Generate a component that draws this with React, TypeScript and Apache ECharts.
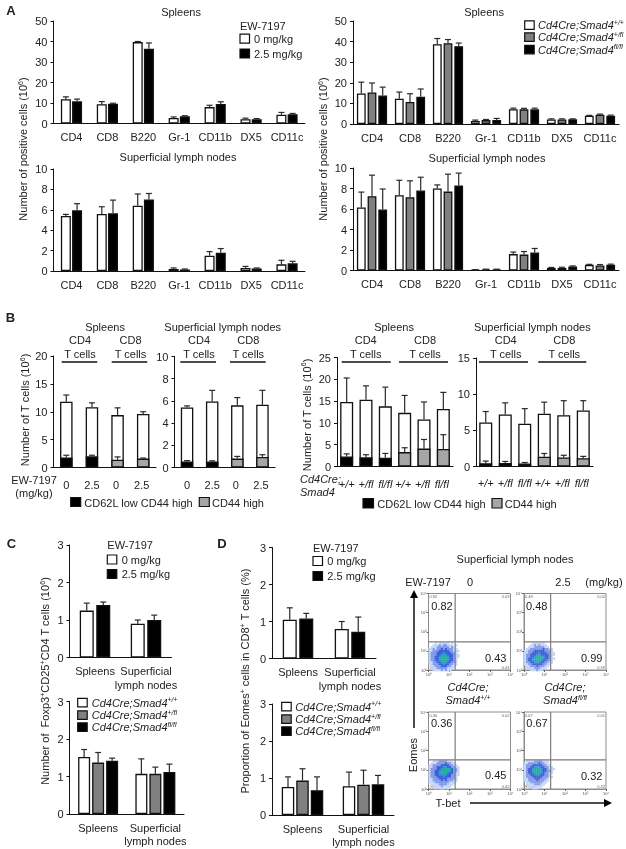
import React, { useEffect, useRef } from "react";
import * as echarts from "echarts";

const FONT = "Liberation Sans";
const INK = "#222222";
const WHITE = "#ffffff";
const GRAY = "#808080";
const BLACK = "#000000";
const HATCH = "#a6a6a6";

const immuneCats = ["CD4", "CD8", "B220", "Gr-1", "CD11b", "DX5", "CD11c"];
const tissueCats = ["Spleens", "Superficial\nlymph nodes"];
const doseCats = ["0", "2.5", "0 ", "2.5 "];
const genoCats = ["+/+", "+/fl", "fl/fl", "+/+ ", "+/fl ", "fl/fl "];

const a1White = [11.8, 9.4, 39.7, 2.7, 8, 2.1, 4.3];
const a1WhiteTop = [13, 10.7, 40, 3.2, 8.9, 2.6, 5.4];
const a1Black = [10.8, 9.6, 36.5, 3.5, 9.5, 2.1, 4.5];
const a1BlackTop = [11.9, 9.9, 39.3, 3.8, 10.6, 2.4, 4.9];

const a2White = [14.8, 12.3, 38.7, 1.5, 7.2, 2.2, 4];
const a2WhiteTop = [20.3, 15.5, 41.5, 1.9, 7.7, 2.5, 4.2];
const a2Gray = [15.3, 10.7, 39.2, 1.9, 7.1, 2.2, 4.5];
const a2GrayTop = [19.9, 14.7, 41, 2.2, 7.6, 2.5, 4.8];
const a2Black = [13.8, 13.2, 37.8, 2, 7.1, 2.3, 4];
const a2BlackTop = [17.9, 17, 39.3, 2.7, 7.7, 2.5, 4.3];

const a3White = [5.4, 5.6, 6.4, 0.2, 1.5, 0.3, 0.65];
const a3WhiteTop = [5.55, 6.3, 7.55, 0.3, 1.9, 0.45, 1.05];
const a3Black = [5.95, 5.65, 7.0, 0.15, 1.8, 0.25, 0.75];
const a3BlackTop = [6.6, 6.95, 7.6, 0.2, 2.2, 0.3, 0.95];

const a4White = [6.15, 7.35, 8, 0.05, 1.6, 0.25, 0.55];
const a4WhiteTop = [7.65, 8.8, 8.35, 0.08, 1.8, 0.3, 0.6];
const a4Gray = [7.25, 7.15, 7.7, 0.1, 1.55, 0.25, 0.5];
const a4GrayTop = [9.3, 8.75, 9.4, 0.13, 1.85, 0.32, 0.58];
const a4Black = [5.95, 7.8, 8.3, 0.1, 1.75, 0.4, 0.55];
const a4BlackTop = [7.95, 9.1, 9.5, 0.13, 2.15, 0.45, 0.62];

const b1Total = [11.8, 10.8, 9.4, 9.6];
const b1TotalTop = [13, 11.6, 10.7, 10];
const b1Low = [1.8, 2, 1.4, 1.6];
const b1LowTop = [2.2, 2.2, 1.9, 1.7];

const b2Total = [5.4, 5.95, 5.6, 5.65];
const b2TotalTop = [5.55, 6.95, 6.3, 6.95];
const b2Low = [0.55, 0.55, 0.8, 0.95];
const b2LowTop = [0.62, 0.6, 1.0, 1.15];

const b3Total = [14.8, 15.3, 13.8, 12.3, 10.8, 13.2];
const b3TotalTop = [20.3, 18.5, 18.2, 16.3, 14.8, 17];
const b3Low = [2.3, 2.1, 2, 3.3, 4.1, 4];
const b3LowTop = [2.9, 2.7, 3, 4.3, 6.2, 7.3];

const b4Total = [6.1, 7.2, 5.9, 7.3, 7.1, 7.75];
const b4TotalTop = [7.6, 8.8, 8, 8.9, 9.1, 9.1];
const b4Low = [0.45, 0.5, 0.4, 1.35, 1.25, 1.15];
const b4LowTop = [0.75, 0.7, 0.55, 1.8, 1.55, 1.4];

const c1White = [1.25, 0.9];
const c1WhiteTop = [1.45, 1.0];
const c1Black = [1.4, 1.0];
const c1BlackTop = [1.48, 1.13];
const c2White = [1.52, 1.07];
const c2WhiteTop = [1.72, 1.47];
const c2Gray = [1.37, 1.07];
const c2GrayTop = [1.64, 1.25];
const c2Black = [1.42, 1.12];
const c2BlackTop = [1.49, 1.33];

const d1White = [1.05, 0.8];
const d1WhiteTop = [1.37, 1.0];
const d1Black = [1.08, 0.72];
const d1BlackTop = [1.22, 1.12];
const d2White = [0.76, 0.78];
const d2WhiteTop = [1.03, 1.16];
const d2Gray = [0.93, 0.82];
const d2GrayTop = [1.25, 1.21];
const d2Black = [0.67, 0.83];
const d2BlackTop = [1.03, 1.07];

// density of events, top row first, one digit per cell of the lower-left gate
const flowA = [
  "000101111101000",
  "001112122111010",
  "011122222212100",
  "112122323222110",
  "112223333322111",
  "122233343332210",
  "122233444333211",
  "122334454433211",
  "122334555433210",
  "122334554433210",
  "112233444332210",
  "112223343322110",
  "011222333221100",
  "011122222111000",
  "001111212110000",
];
const flowB = [
  "000011111100000",
  "000112121110000",
  "001112222211000",
  "011222222322110",
  "112223333322210",
  "112233343332211",
  "122333443333211",
  "122334454433210",
  "123344555433211",
  "123344544332210",
  "122334443322110",
  "112233333221100",
  "011222322211000",
  "011112221110000",
  "000111211000000",
];
const flowC = [
  "001112222111000",
  "011122223221100",
  "112222333322110",
  "112233344332211",
  "122233445543221",
  "122334555443221",
  "122334554433211",
  "122334444332211",
  "122233343332210",
  "112223333222210",
  "112222323222110",
  "111222222211100",
  "011112222111000",
  "001111211110000",
  "000101110100000",
];
const flowD = [
  "011112222111000",
  "112222232211000",
  "122233333221100",
  "122334443322110",
  "123344544332111",
  "123345554332210",
  "123344544322110",
  "122334443322100",
  "122233333222110",
  "112223332221000",
  "112222322211000",
  "011222222110000",
  "011112221100000",
  "001111111000000",
  "000011100000000",
];
const flowColors = ["transparent", "#c6d5f7", "#7f9ae9", "#3f5edb", "#2d9ec9", "#27b48c"];
const decades = [0, 1, 2, 3, 4];

const grids: any[] = [];
const xAxes: any[] = [];
const yAxes: any[] = [];
const series: any[] = [];
const gfx: any[] = [];

const errorSeries = (g: number, vals: number[], tops: number[], offset: number, cap: number, z = 5) => ({
  type: "custom",
  xAxisIndex: g,
  yAxisIndex: g,
  silent: true,
  z,
  clip: false,
  data: vals.map((v, i) => [i, tops[i], v]),
  encode: { x: 0, y: 1 },
  renderItem: (_: any, api: any) => {
    const a = api.coord([api.value(0), api.value(1)]);
    const b = api.coord([api.value(0), api.value(2)]);
    const x = a[0] + offset;
    const st = { stroke: "#2a2a2a", lineWidth: 1.2, fill: "none" };
    return {
      type: "group",
      children: [
        { type: "line", shape: { x1: x, y1: a[1], x2: x, y2: b[1] }, style: st },
        { type: "line", shape: { x1: x - cap, y1: a[1], x2: x + cap, y2: a[1] }, style: st },
      ],
    };
  },
});

function addAxes(p: any) {
  const g = grids.length;
  grids.push({ left: p.left, top: p.top, width: p.right - p.left, height: p.zero - p.top });
  xAxes.push({
    gridIndex: g,
    type: "category",
    data: p.cats,
    axisLine: { lineStyle: { color: "#111", width: 1 } },
    axisTick: { length: 3, lineStyle: { color: "#111" } },
    axisLabel: {
      interval: 0,
      color: INK,
      fontFamily: FONT,
      fontSize: 11,
      margin: p.margin,
      fontStyle: p.italic ? "italic" : "normal",
      lineHeight: 13.5,
    },
  });
  yAxes.push({
    gridIndex: g,
    type: "value",
    min: 0,
    max: p.max,
    interval: p.interval,
    splitLine: { show: false },
    axisLine: { show: true, lineStyle: { color: "#111", width: 1 } },
    axisTick: { show: true, length: 3, lineStyle: { color: "#111" } },
    axisLabel: { color: INK, fontFamily: FONT, fontSize: 11, margin: 6 },
  });
  return g;
}

function addBars(p: any) {
  const g = addAxes(p);
  const n = p.groups.length;
  p.groups.forEach((s: any, i: number) => {
    series.push({
      type: "bar",
      xAxisIndex: g,
      yAxisIndex: g,
      data: s.vals,
      barWidth: p.barW,
      barGap: `${(p.gap / p.barW) * 100}%`,
      itemStyle: { color: s.color, borderColor: "#111", borderWidth: 1.3 },
      silent: true,
    });
    series.push(errorSeries(g, s.vals, s.tops, (i - (n - 1) / 2) * (p.barW + p.gap), p.cap));
  });
}

function addStack(p: any) {
  const g = addAxes(p);
  series.push({
    type: "bar",
    xAxisIndex: g,
    yAxisIndex: g,
    data: p.total,
    barWidth: p.barW,
    barGap: "-100%",
    z: 2,
    itemStyle: { color: WHITE, borderColor: "#111", borderWidth: 1.3 },
    silent: true,
  });
  series.push({
    type: "bar",
    xAxisIndex: g,
    yAxisIndex: g,
    data: p.low.map((v: number, i: number) => ({ value: v, itemStyle: { color: p.lowColors[i] } })),
    barWidth: p.barW,
    barGap: "-100%",
    z: 3,
    itemStyle: { borderColor: "#111", borderWidth: 1.3 },
    silent: true,
  });
  series.push(errorSeries(g, p.total, p.top2, 0, p.cap));
  series.push(errorSeries(g, p.low, p.lowTop, 0, p.cap, 6));
}

const CELL = 0.1;

function addFlow(p: any) {
  const g = grids.length;
  grids.push({
    left: p.left,
    top: p.top,
    width: p.width,
    height: p.height,
    show: true,
    borderColor: "#8c8c8c",
    borderWidth: 1,
    backgroundColor: WHITE,
  });
  const ax = (gridIndex: number, position: string) => ({
    gridIndex,
    type: "value",
    position,
    min: 0,
    max: 4,
    interval: 1,
    splitLine: { show: false },
    axisLine: { show: true, lineStyle: { color: "#8c8c8c" } },
    axisTick: { show: true, length: 2, lineStyle: { color: "#666" } },
    axisLabel: {
      color: "#555",
      fontFamily: FONT,
      fontSize: 4,
      margin: 2,
      formatter: (v: number) => `10${"⁰¹²³⁴"[decades.indexOf(v)]}`,
    },
  });
  xAxes.push(ax(g, "bottom"));
  yAxes.push(ax(g, "left"));
  const cells: number[][] = [];
  p.rows.forEach((r: string, ri: number) =>
    r.split("").forEach((d: string, ci: number) => {
      if (d !== "0") cells.push([ci * CELL, p.gateY - 0.02 - ri * CELL, Number(d)]);
    })
  );
  series.push({
    type: "custom",
    xAxisIndex: g,
    yAxisIndex: g,
    silent: true,
    data: cells,
    encode: { x: 0, y: 1 },
    renderItem: (_: any, api: any) => {
      const a = api.coord([api.value(0), api.value(1)]);
      const b = api.coord([api.value(0) + CELL, api.value(1) - CELL]);
      return {
        type: "rect",
        shape: { x: a[0], y: a[1], width: b[0] - a[0] + 0.3, height: b[1] - a[1] + 0.3 },
        style: { fill: flowColors[api.value(2)] },
      };
    },
  });
  const gate = (data: number[][]) => ({
    type: "line",
    xAxisIndex: g,
    yAxisIndex: g,
    silent: true,
    symbol: "none",
    z: 4,
    lineStyle: { color: "#7d7d7d", width: 1.2 },
    data,
  });
  series.push(gate([[p.gateX, 0], [p.gateX, 4]]));
  series.push(gate([[0, p.gateY], [4, p.gateY]]));
  const corner = (s: string, x: number, y: number, align: string) =>
    gfx.push({
      type: "text",
      x,
      y,
      silent: true,
      style: { text: s, fill: "#666", fontFamily: FONT, fontSize: 4, align, verticalAlign: "middle" },
    });
  corner(p.corners[0], p.left + 1, p.top + 3, "left");
  corner(p.corners[1], p.left + p.width - 1, p.top + 3, "right");
  corner(p.corners[2], p.left + 1, p.top + p.height - 3, "left");
  corner(p.corners[3], p.left + p.width - 1, p.top + p.height - 3, "right");
}

const SUP = { fontSize: 7, verticalAlign: "top", lineHeight: 13, fontFamily: FONT, fill: INK };

function t(text: string, x: number, y: number, o: any = {}) {
  gfx.push({
    type: "text",
    x,
    y,
    rotation: o.rot || 0,
    silent: true,
    z: 20,
    style: {
      text,
      fill: o.fill || INK,
      fontFamily: FONT,
      fontSize: o.size || 11,
      fontWeight: o.bold ? "bold" : "normal",
      fontStyle: o.italic ? "italic" : "normal",
      align: o.align || "center",
      verticalAlign: "middle",
      rich: {
        s: { ...SUP, fontStyle: o.italic ? "italic" : "normal" },
        n: { fontSize: o.size || 11, lineHeight: 13, fontFamily: FONT, fill: INK, fontStyle: o.italic ? "italic" : "normal" },
      },
    },
  });
}
const box = (x: number, y: number, w: number, h: number, fill: string) =>
  gfx.push({
    type: "rect",
    silent: true,
    z: 20,
    shape: { x, y, width: w, height: h },
    style: { fill, stroke: "#111", lineWidth: 1.2 },
  });
const rule = (x1: number, y1: number, x2: number, y2: number, w = 1.3) =>
  gfx.push({
    type: "line",
    silent: true,
    z: 20,
    shape: { x1, y1, x2, y2 },
    style: { stroke: "#111", lineWidth: w },
  });

function doseLegend(x: number, y: number, tx: number, yy: number[]) {
  t("EW-7197", x, y, { align: "left" });
  box(x, yy[0] - 4.5, 9.5, 9, WHITE);
  t("0 mg/kg", tx, yy[0], { align: "left" });
  box(x, yy[1] - 4.5, 9.5, 9, BLACK);
  t("2.5 mg/kg", tx, yy[1], { align: "left" });
}
function genoLegend(x: number, tx: number, yy: number[]) {
  const sup = ["+/+", "+/fl", "fl/fl"];
  const fills = [WHITE, GRAY, BLACK];
  yy.forEach((y, i) => {
    box(x, y - 4.2, 9.5, 8.5, fills[i]);
    t(`{n|Cd4Cre;Smad4}{s|${sup[i]}}`, tx, y, { align: "left", italic: true });
  });
}

// ---- Panel A
addBars({ left: 53.5, right: 305, top: 21, zero: 123.5, max: 50, interval: 10, cats: immuneCats, margin: 7, barW: 10, gap: 1.2, cap: 3,
  groups: [{ vals: a1White, tops: a1WhiteTop, color: WHITE }, { vals: a1Black, tops: a1BlackTop, color: BLACK }] });
addBars({ left: 353, right: 619, top: 21, zero: 124, max: 50, interval: 10, cats: immuneCats, margin: 7, barW: 8.8, gap: 1.9, cap: 3,
  groups: [{ vals: a2White, tops: a2WhiteTop, color: WHITE }, { vals: a2Gray, tops: a2GrayTop, color: GRAY }, { vals: a2Black, tops: a2BlackTop, color: BLACK }] });
addBars({ left: 53.5, right: 305, top: 169, zero: 271, max: 10, interval: 2, cats: immuneCats, margin: 7, barW: 10, gap: 1.2, cap: 3,
  groups: [{ vals: a3White, tops: a3WhiteTop, color: WHITE }, { vals: a3Black, tops: a3BlackTop, color: BLACK }] });
addBars({ left: 353, right: 619, top: 168, zero: 270.5, max: 10, interval: 2, cats: immuneCats, margin: 7, barW: 8.8, gap: 1.9, cap: 3,
  groups: [{ vals: a4White, tops: a4WhiteTop, color: WHITE }, { vals: a4Gray, tops: a4GrayTop, color: GRAY }, { vals: a4Black, tops: a4BlackTop, color: BLACK }] });

// ---- Panel B
addStack({ left: 53.5, right: 156, top: 356, zero: 467.5, max: 20, interval: 5, cats: doseCats, margin: 11, barW: 12.5, cap: 3,
  total: b1Total, top2: b1TotalTop, low: b1Low, lowTop: b1LowTop, lowColors: [BLACK, BLACK, HATCH, HATCH] });
addStack({ left: 174.5, right: 275, top: 356.5, zero: 467.5, max: 10, interval: 2, cats: doseCats, margin: 11, barW: 12.5, cap: 3,
  total: b2Total, top2: b2TotalTop, low: b2Low, lowTop: b2LowTop, lowColors: [BLACK, BLACK, HATCH, HATCH] });
addStack({ left: 337, right: 453, top: 357.5, zero: 466.5, max: 25, interval: 5, cats: genoCats, margin: 11, italic: true, barW: 13, cap: 3,
  total: b3Total, top2: b3TotalTop, low: b3Low, lowTop: b3LowTop, lowColors: [BLACK, BLACK, BLACK, HATCH, HATCH, HATCH] });
addStack({ left: 476, right: 593, top: 358, zero: 466.5, max: 15, interval: 5, cats: genoCats, margin: 10, italic: true, barW: 13, cap: 3,
  total: b4Total, top2: b4TotalTop, low: b4Low, lowTop: b4LowTop, lowColors: [BLACK, BLACK, BLACK, HATCH, HATCH, HATCH] });

// ---- Panels C and D
addBars({ left: 69.5, right: 171.5, top: 545, zero: 657.5, max: 3, interval: 1, cats: tissueCats, margin: 7, barW: 14, gap: 2.5, cap: 3,
  groups: [{ vals: c1White, tops: c1WhiteTop, color: WHITE }, { vals: c1Black, tops: c1BlackTop, color: BLACK }] });
addBars({ left: 69.5, right: 184, top: 701.5, zero: 814, max: 3, interval: 1, cats: tissueCats, margin: 7, barW: 12, gap: 2, cap: 3,
  groups: [{ vals: c2White, tops: c2WhiteTop, color: WHITE }, { vals: c2Gray, tops: c2GrayTop, color: GRAY }, { vals: c2Black, tops: c2BlackTop, color: BLACK }] });
addBars({ left: 272, right: 376, top: 547.5, zero: 658.5, max: 3, interval: 1, cats: tissueCats, margin: 7, barW: 14, gap: 2.5, cap: 3,
  groups: [{ vals: d1White, tops: d1WhiteTop, color: WHITE }, { vals: d1Black, tops: d1BlackTop, color: BLACK }] });
addBars({ left: 272, right: 394, top: 704, zero: 815, max: 3, interval: 1, cats: tissueCats, margin: 7, barW: 12.5, gap: 2, cap: 3,
  groups: [{ vals: d2White, tops: d2WhiteTop, color: WHITE }, { vals: d2Gray, tops: d2GrayTop, color: GRAY }, { vals: d2Black, tops: d2BlackTop, color: BLACK }] });

// ---- Flow plots
addFlow({ left: 428.5, top: 593.5, width: 82, height: 76.5, gateX: 1.3, gateY: 1.47, rows: flowA, corners: ["0.82", "0.03", "98.71", "0.43"] });
addFlow({ left: 524, top: 593.5, width: 82, height: 76.5, gateX: 1.3, gateY: 1.47, rows: flowB, corners: ["0.48", "0.02", "98.51", "0.99"] });
addFlow({ left: 428.5, top: 712, width: 82, height: 77, gateX: 1.3, gateY: 1.51, rows: flowC, corners: ["0.36", "0.02", "99.17", "0.45"] });
addFlow({ left: 524, top: 712, width: 82, height: 77, gateX: 1.3, gateY: 1.51, rows: flowD, corners: ["0.67", "0.01", "99.00", "0.32"] });

// ---- Letters
t("A", 11, 10.5, { bold: true, size: 13 });
t("B", 10.5, 317.5, { bold: true, size: 13 });
t("C", 11.5, 543, { bold: true, size: 13 });
t("D", 222, 543, { bold: true, size: 13 });

// ---- Panel A texts
t("Spleens", 181, 12);
t("Spleens", 484, 12);
t("Superficial lymph nodes", 178, 157);
t("Superficial lymph nodes", 487, 158);
const UP = Math.PI / 2;
const POS = "{n|Number of positive cells (10}{s|6}{n|)}";
t(POS, 23, 149, { rot: UP });
t(POS, 323, 149, { rot: UP });
doseLegend(240, 26, 254, [38.7, 53.5]);
genoLegend(524.7, 538, [25, 37, 49.5]);

// ---- Panel B texts
const TC = "{n|Number of T cells (10}{s|6}{n|)}";
t(TC, 25, 410, { rot: UP });
t(TC, 306.5, 415, { rot: UP });
t("Spleens", 105, 327);
t("Superficial lymph nodes", 222.7, 327);
t("Spleens", 394, 327);
t("Superficial lymph nodes", 532.3, 327);
const subset = (x: number, s: string, x1: number, x2: number) => {
  t(s, x, 340);
  t("T cells", x, 353.5);
  rule(x1, 362, x2, 362);
};
subset(80, "CD4", 61.7, 97.3);
subset(130.5, "CD8", 111.7, 147.3);
subset(199, "CD4", 180.3, 216);
subset(248.3, "CD8", 230, 265.7);
subset(365.7, "CD4", 341.7, 390.7);
subset(425, "CD8", 399, 448);
subset(505.7, "CD4", 479, 528);
subset(564.3, "CD8", 538.3, 586.3);
t("EW-7197", 34, 480);
t("(mg/kg)", 34, 493);
t("Cd4Cre;", 300, 479, { align: "left", italic: true });
t("Smad4", 300, 492, { align: "left", italic: true });
box(70.7, 497.5, 10, 9, BLACK);
t("CD62L low CD44 high", 84.3, 503, { align: "left" });
box(199.3, 497.5, 10, 9, HATCH);
t("CD44 high", 212, 503, { align: "left" });
box(363, 498.5, 10.5, 9.5, BLACK);
t("CD62L low CD44 high", 377.3, 504, { align: "left" });
box(492, 498.5, 10, 9.5, HATCH);
t("CD44 high", 504.7, 504, { align: "left" });

// ---- Panel C and D texts
t("{n|Number of  Foxp3}{s|+}{n|CD25}{s|+}{n|CD4 T cells (10}{s|6}{n|)}", 45, 681, { rot: UP });
doseLegend(107.3, 545, 121.7, [559.5, 574]);
genoLegend(77.7, 91.7, [702.5, 715, 727]);
t("{n|Proportion of Eomes}{s|+}{n| cells in CD8}{s|+}{n| T cells (%)}", 245, 681, { rot: UP });
doseLegend(313, 547.7, 327.3, [561, 576]);
genoLegend(281.7, 295.3, [706.5, 719, 731]);

// ---- Flow texts
t("Superficial lymph nodes", 515, 559);
t("EW-7197", 428, 581.5);
t("0", 470, 581.5);
t("2.5", 563, 581.5);
t("(mg/kg)", 604, 581.5);
t("Cd4Cre;", 468, 686.5, { italic: true });
t("{n|Smad4}{s|+/+}", 468, 700, { italic: true });
t("Cd4Cre;", 565, 686.5, { italic: true });
t("{n|Smad4}{s|fl/fl}", 565, 700, { italic: true });
t("0.82", 442, 606);
t("0.43", 495.7, 658);
t("0.48", 536.7, 606);
t("0.99", 591.7, 658);
t("0.36", 441.7, 723);
t("0.45", 495.7, 775);
t("0.67", 537, 723);
t("0.32", 591.7, 776);
t("Eomes", 413, 755, { rot: UP });
t("T-bet", 448, 803);
rule(414, 728, 414, 597, 1.5);
gfx.push({ type: "polygon", silent: true, z: 20, shape: { points: [[414, 590], [410, 598], [418, 598]] }, style: { fill: "#000" } });
rule(470, 803, 605, 803, 1.5);
gfx.push({ type: "polygon", silent: true, z: 20, shape: { points: [[612, 803], [604, 799], [604, 807]] }, style: { fill: "#000" } });

const option = {
  animation: false,
  backgroundColor: "#ffffff",
  tooltip: { show: false },
  grid: grids,
  xAxis: xAxes,
  yAxis: yAxes,
  series,
  graphic: { elements: gfx },
};

export default function App() {
  const ref = useRef<HTMLDivElement>(null);
  useEffect(() => {
    document.body.style.margin = "0";
    const chart = echarts.init(ref.current!, undefined, { renderer: "svg" });
    chart.setOption(option as any);
    return () => chart.dispose();
  }, []);
  return <div ref={ref} style={{ position: "absolute", left: 0, top: 0, width: 626, height: 849, filter: "blur(0.4px)" }} />;
}
